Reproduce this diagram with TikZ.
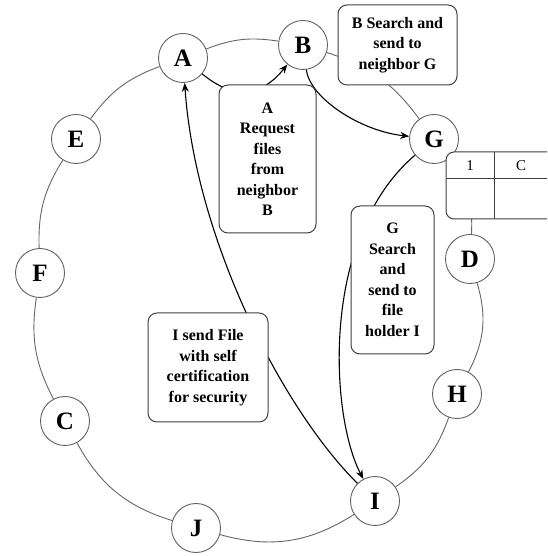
\documentclass[tikz,border=0pt]{standalone}
\usepackage{fontspec}
\setmainfont{Liberation Serif}
\usetikzlibrary{arrows.meta}
\begin{document}
\begin{tikzpicture}[x=1pt,y=1pt,
  peer/.style={circle,draw=black!62,line width=0.9pt,fill=white,minimum size=49pt,inner sep=0pt,font=\fontsize{25}{25}\selectfont\bfseries},
  note/.style={draw=black!75,line width=1pt,rounded corners=9pt,fill=white,align=center,inner sep=0pt,font=\fontsize{16}{20.5}\selectfont\bfseries},
  ring/.style={draw=black!60,line width=0.9pt},
  msg/.style={draw=black,line width=1.1pt,-{Stealth[length=9pt,width=7pt]}},
  cell/.style={inner sep=0pt,font=\fontsize{15}{15}\selectfont}
]
\useasboundingbox (0,0) rectangle (547,556);
\clip (0,0) rectangle (547,556);
\fill[white] (0,0) rectangle (547,556);

% peers
\node[peer] (A) at (183,498) {A};
\node[peer] (B) at (303,511) {B};
\node[peer] (G) at (434,417) {G};
\node[peer] (D) at (470,297) {D};
\node[peer] (H) at (457,162) {H};
\node[peer] (I) at (375,55) {I};
\node[peer] (J) at (196,28) {J};
\node[peer] (C) at (65,135) {C};
\node[peer] (F) at (40,283) {F};
\node[peer] (E) at (76,417) {E};

% ring
\draw[ring] (A) to[bend left=15] (B);
\draw[ring] (B) to[bend left=18] (G);
\draw[ring] (G) to[bend left=20] (D);
\draw[ring] (D) to[bend left=22] (H);
\draw[ring] (H) to[bend left=18] (I);
\draw[ring] (I) to[bend left=24] (J);
\draw[ring] (J) to[bend left=22] (C);
\draw[ring] (C) to[bend left=18] (F);
\draw[ring] (F) to[bend left=17] (E);
\draw[ring] (E) to[bend left=17] (A);

% messages
\draw[msg] (A) .. controls (235,455) and (262,460) .. (B);
\draw[msg] (B) .. controls (310,458) and (360,425) .. (G);
\draw[msg] (G) .. controls (320,320) and (330,140) .. (I);
\draw[msg] (I) .. controls (280,150) and (195,320) .. (A);

% notes
\node[note,minimum width=119pt,minimum height=80pt] (bsearch) at (397.5,511) {B Search and\\send to\\neighbor G};
\node[note,minimum width=97pt,minimum height=148pt] (areq) at (267.5,397) {A\\Request\\files\\from\\neighbor\\B};
\node[note,minimum width=83pt,minimum height=148pt] (gsearch) at (392.5,276) {G\\Search\\and\\send to\\file\\holder I};
\node[note,minimum width=120pt,minimum height=109pt] (isend) at (208,188.5) {I send File\\with self\\certification\\for security};

% table
\draw[draw=black!75,line width=1pt,fill=white,rounded corners=8pt] (446,337) rectangle (570,404);
\draw[draw=black!75,line width=1pt] (446,377) -- (570,377);
\draw[draw=black!75,line width=1pt] (494,337) -- (494,404);
\node[cell] (t1) at (470,390) {1};
\node[cell] (tC) at (521,390) {C};
\end{tikzpicture}
\end{document}
